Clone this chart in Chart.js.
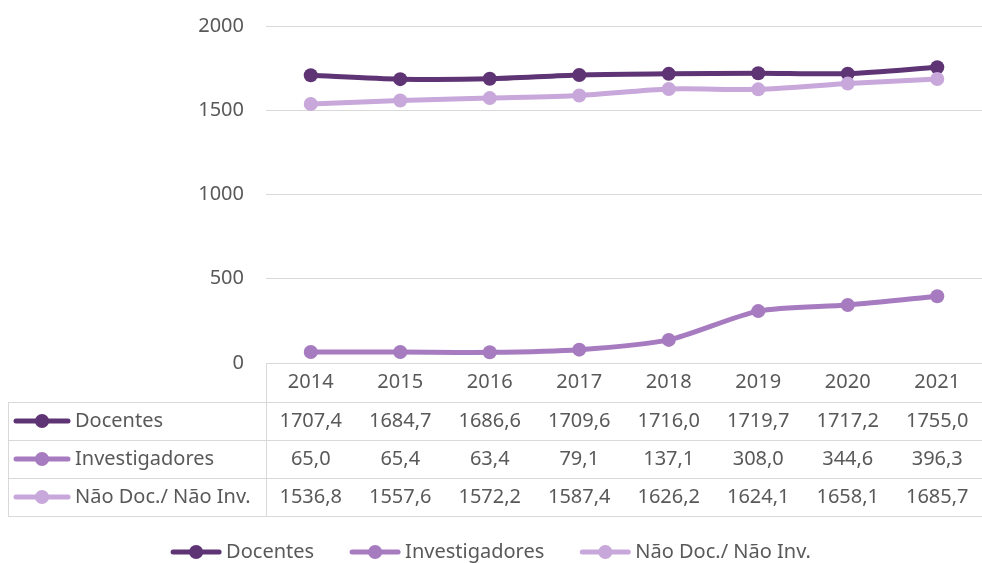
<!DOCTYPE html>
<html>
<head>
<meta charset="utf-8">
<script src="https://cdn.jsdelivr.net/npm/chart.js@4"></script>
<style>
  body { margin: 0; background: #fff; }
  canvas { display: block; }
</style>
</head>
<body>
<canvas id="lineChart" width="982" height="563"></canvas>
<script>
const years = ['2014', '2015', '2016', '2017', '2018', '2019', '2020', '2021'];
const seriesNames = ['Docentes', 'Investigadores', 'Não Doc./ Não Inv.'];
const docentes = [1707.4, 1684.7, 1686.6, 1709.6, 1716.0, 1719.7, 1717.2, 1755.0];
const investigadores = [65.0, 65.4, 63.4, 79.1, 137.1, 308.0, 344.6, 396.3];
const naoDocNaoInv = [1536.8, 1557.6, 1572.2, 1587.4, 1626.2, 1624.1, 1658.1, 1685.7];
const yTicks = [0, 500, 1000, 1500, 2000];
const colors = ['#5f3475', '#a77bbf', '#c8a7da'];

const FONT = '20px "Noto Sans"';
const TEXT = '#595959';
const GRID = '#d9d9d9';

function fmt(v) {
   return v.toFixed(1).replace('.', ',');
}

// marker like Excel: thick line with a dot in the middle
function drawMarker(ctx, x, y, w, color) {
   ctx.save();
   ctx.strokeStyle = color;
   ctx.fillStyle = color;
   ctx.lineWidth = 5;
   ctx.lineCap = 'round';
   ctx.beginPath();
   ctx.moveTo(x + 2, y);
   ctx.lineTo(x + w - 2, y);
   ctx.stroke();
   ctx.beginPath();
   ctx.arc(x + w / 2, y, 7, 0, Math.PI * 2);
   ctx.fill();
   ctx.restore();
}

const dataTable = {
   id: 'dataTable',
   afterDraw(chart) {
      const ctx = chart.ctx;
      const area = chart.chartArea;
      const xs = chart.scales.x;
      const rowH = 38;
      const headTop = area.bottom;
      const headBottom = headTop + 39;
      const tableLeft = 8;
      const right = chart.width;
      const rows = [docentes, investigadores, naoDocNaoInv];

      ctx.save();
      ctx.strokeStyle = GRID;
      ctx.lineWidth = 1;
      ctx.beginPath();
      // vertical line between label column and values
      ctx.moveTo(area.left + 0.5, headTop);
      ctx.lineTo(area.left + 0.5, headBottom + rowH * 3);
      // left border
      ctx.moveTo(tableLeft + 0.5, headBottom);
      ctx.lineTo(tableLeft + 0.5, headBottom + rowH * 3);
      for (let r = 0; r <= 3; r++) {
         const y = Math.round(headBottom + rowH * r) + 0.5;
         ctx.moveTo(tableLeft, y);
         ctx.lineTo(right, y);
      }
      ctx.stroke();

      ctx.font = FONT;
      ctx.fillStyle = TEXT;
      ctx.textAlign = 'center';
      ctx.textBaseline = 'middle';
      years.forEach((yr, i) => {
         ctx.fillText(yr, xs.getPixelForValue(i), (headTop + headBottom) / 2);
      });

      rows.forEach((vals, r) => {
         const cy = headBottom + rowH * r + rowH / 2;
         drawMarker(ctx, 14, cy, 56, colors[r]);
         ctx.fillStyle = TEXT;
         ctx.textAlign = 'left';
         ctx.fillText(seriesNames[r], 75, cy);
         ctx.textAlign = 'center';
         vals.forEach((v, i) => {
            ctx.fillText(fmt(v), xs.getPixelForValue(i), cy);
         });
      });

      // legend at bottom, centered
      const markW = 50, gap = 5, itemGap = 36;
      const widths = seriesNames.map(n => markW + gap + ctx.measureText(n).width);
      const total = widths.reduce((a, b) => a + b, 0) + itemGap * (widths.length - 1);
      let lx = (chart.width - total) / 2;
      const ly = 552;
      seriesNames.forEach((n, i) => {
         drawMarker(ctx, lx, ly, markW, colors[i]);
         ctx.fillStyle = TEXT;
         ctx.textAlign = 'left';
         ctx.fillText(n, lx + markW + gap, ly);
         lx += widths[i] + itemGap;
      });
      ctx.restore();
   }
};

const lineChart = document.getElementById('lineChart');

new Chart(lineChart, {
   type: 'line',
   data: {
      labels: years,
      datasets: [{
         label: seriesNames[0],
         data: docentes,
         borderColor: colors[0],
         backgroundColor: colors[0],
         order: 3
      }, {
         label: seriesNames[1],
         data: investigadores,
         borderColor: colors[1],
         backgroundColor: colors[1],
         order: 2
      }, {
         label: seriesNames[2],
         data: naoDocNaoInv,
         borderColor: colors[2],
         backgroundColor: colors[2],
         order: 1
      }]
   },
   options: {
      responsive: false,
      animation: false,
      layout: { autoPadding: false, padding: { top: 26, right: 0, left: 0, bottom: 0 } },
      elements: {
         line: { borderWidth: 5, tension: 0.25, borderCapStyle: 'round' },
         point: { radius: 7, hoverRadius: 7, borderWidth: 0 }
      },
      plugins: {
         legend: { display: false },
         tooltip: { enabled: false }
      },
      scales: {
         y: {
            min: 0,
            max: 2000,
            afterBuildTicks: (scale) => { scale.ticks = yTicks.map(v => ({ value: v })); },
            afterFit: (scale) => {
               scale.width = 266;
               scale.paddingTop = 0;
               scale.paddingBottom = 0;
            },
            border: { display: false },
            grid: { color: GRID, lineWidth: 1, drawTicks: false },
            ticks: {
               padding: 22,
               color: TEXT,
               font: { family: 'Noto Sans', size: 20 },
               callback: (v) => String(v)
            }
         },
         x: {
            offset: true,
            afterFit: (scale) => {
               scale.height = 200;
               scale.paddingTop = 0;
               scale.paddingLeft = 0;
               scale.paddingRight = 0;
            },
            border: { display: false },
            grid: { display: false },
            ticks: { display: false }
         }
      }
   },
   plugins: [dataTable]
});
</script>
</body>
</html>
